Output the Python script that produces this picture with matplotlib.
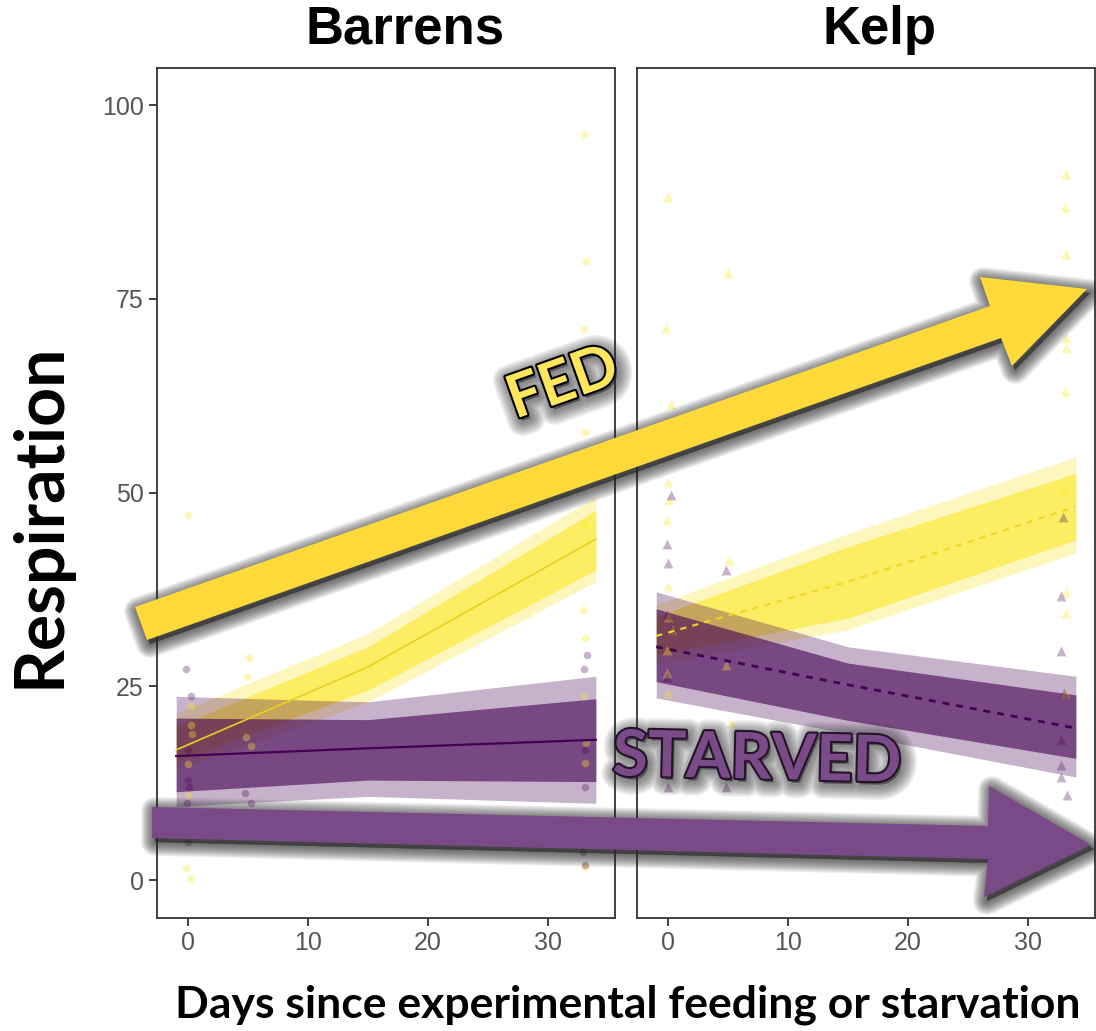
import numpy as np
import matplotlib
matplotlib.use('Agg')
import matplotlib.pyplot as plt
from matplotlib.patches import Polygon
from matplotlib import patheffects as pe

# ---- data ----
pred_days = [-1, 15, 34]

# Barrens, fed (solid line)
barrens_fed_mean = [16.8, 27.5, 44.0]
barrens_fed_in_lo = [15.3, 24.5, 40.0]
barrens_fed_in_hi = [19.8, 30.1, 47.7]
barrens_fed_out_lo = [14.2, 23.0, 38.5]
barrens_fed_out_hi = [21.5, 31.8, 49.5]

# Barrens, starved
barrens_starved_mean = [16.0, 17.0, 18.1]
barrens_starved_in_lo = [11.4, 12.9, 12.7]
barrens_starved_in_hi = [20.9, 20.7, 23.4]
barrens_starved_out_lo = [9.5, 10.8, 9.9]
barrens_starved_out_hi = [23.7, 23.0, 26.3]

# Kelp, fed (dashed line)
kelp_fed_mean = [31.5, 38.5, 48.2]
kelp_fed_in_lo = [29.0, 33.8, 43.9]
kelp_fed_in_hi = [34.0, 43.0, 52.5]
kelp_fed_out_lo = [27.8, 32.3, 42.2]
kelp_fed_out_hi = [35.5, 44.7, 54.6]

# Kelp, starved
kelp_starved_mean = [30.1, 25.2, 19.6]
kelp_starved_in_lo = [25.6, 20.6, 15.7]
kelp_starved_in_hi = [35.0, 28.0, 23.9]
kelp_starved_out_lo = [23.5, 18.9, 13.3]
kelp_starved_out_hi = [37.2, 30.1, 26.3]

# raw observations
barrens_fed_day = [0, 0.2, 0.2, 0.3, 0, 0, -0.2, 0.2,
                   5.1, 4.9, 4.8, 5.2,
                   33, 33.2, 33, 33.1, 33.3, 33, 32.9, 33.1, 33, 33.2, 33.1, 33.1]
barrens_fed_val = [47.1, 22.4, 20.0, 18.8, 15.0, 11.0, 1.5, 0.1,
                   28.6, 26.2, 18.4, 17.3,
                   96.1, 79.9, 71.1, 57.8, 54.0, 46.0, 34.8, 31.2, 23.7, 17.7, 15.1, 1.7]
barrens_starved_day = [-0.2, 0.2, 0, 0, 0.1, -0.1, 0,
                       4.7, 5.2,
                       33.3, 33, 33.1, 33.1, 32.9, 33.1]
barrens_starved_val = [27.2, 23.7, 16.8, 12.9, 12.0, 9.9, 4.9,
                       11.2, 9.9,
                       29.0, 27.3, 16.8, 12.0, 3.6, 1.9]

kelp_fed_day = [0, -0.2, 0.2, 0, 0.1, -0.1, 0, 0, 0.3, -0.1, -0.1, 0,
                5, 5.1, 4.8, 5.2,
                33.2, 33.1, 33.2, 33.2, 33.2, 33.1, 33, 33.2, 33.2, 33.1]
kelp_fed_val = [88.2, 71.2, 61.5, 51.4, 49.0, 46.5, 38.0, 34.0, 32.3, 29.7, 26.7, 24.1,
                78.4, 41.3, 27.7, 20.3,
                91.1, 86.9, 80.8, 70.0, 68.7, 63.1, 50.6, 37.2, 34.4, 24.1]
kelp_starved_day = [0.2, -0.1, 0, -0.1, 0.2, -0.1, -0.1, 0,
                    4.8, 4.8,
                    32.9, 32.8, 32.8, 33, 32.8, 32.8, 32.8, 33.3, 33]
kelp_starved_val = [49.7, 43.4, 40.9, 34.2, 32.3, 26.2, 15.9, 12.0,
                    40.0, 12.0,
                    46.9, 36.6, 29.5, 24.1, 18.1, 14.8, 13.3, 11.0, 6.0]

panel_titles = ['Barrens', 'Kelp']
y_ticks = [0, 25, 50, 75, 100]
x_ticks = [0, 10, 20, 30]

yellow = '#FDE725'
purple = '#440154'

W, H = 1096, 1031
fig = plt.figure(figsize=(W / 100, H / 100), dpi=100)


def px_axes(x0, y0, x1, y1):
    # pixel box (top-left origin) -> figure fraction
    return [x0 / W, 1 - y1 / H, (x1 - x0) / W, (y1 - y0) / H]


ax_b = fig.add_axes(px_axes(157, 68, 615, 918))
ax_k = fig.add_axes(px_axes(637, 68, 1095, 918))


def draw_panel(ax, fed, starved, fed_pts, st_pts, marker, ls, show_y):
    # fed ribbons
    ax.fill_between(pred_days, fed[3], fed[4], color=yellow, alpha=0.3, lw=0)
    ax.fill_between(pred_days, fed[1], fed[2], color=yellow, alpha=0.6, lw=0)
    # starved ribbons
    ax.fill_between(pred_days, starved[3], starved[4], color=purple, alpha=0.3, lw=0)
    ax.fill_between(pred_days, starved[1], starved[2], color=purple, alpha=0.6, lw=0)
    if ls == 'solid':
        ax.plot(pred_days, fed[0], color='#E6D21E', lw=1.2)
        ax.plot(pred_days, starved[0], color=purple, lw=1.6)
    else:
        ax.plot(pred_days, fed[0], color='#EED822', lw=1.5, ls=(0, (3, 3)))
        ax.plot(pred_days, starved[0], color=purple, lw=2, ls=(0, (2.5, 2.5)))
    ms = 30 if marker == 'o' else 50
    ax.scatter(fed_pts[0], fed_pts[1], s=ms, marker=marker, color=yellow, alpha=0.35, lw=0)
    ax.scatter(st_pts[0], st_pts[1], s=ms, marker=marker, color=purple, alpha=0.3, lw=0)

    ax.set_xlim(-2.6, 35.6)
    ax.set_ylim(-4.9, 104.8)
    ax.set_xticks(x_ticks)
    ax.set_yticks(y_ticks)
    for s in ax.spines.values():
        s.set_color('#333333')
        s.set_linewidth(1.3)
    ax.tick_params(axis='both', colors='#333333', length=6, width=1.3,
                   labelsize=18, labelcolor='#555555')
    for lab in ax.get_xticklabels() + ax.get_yticklabels():
        lab.set_family('Liberation Sans')
    if not show_y:
        ax.tick_params(axis='y', left=False, labelleft=False)


draw_panel(ax_b,
           [barrens_fed_mean, barrens_fed_in_lo, barrens_fed_in_hi, barrens_fed_out_lo, barrens_fed_out_hi],
           [barrens_starved_mean, barrens_starved_in_lo, barrens_starved_in_hi,
            barrens_starved_out_lo, barrens_starved_out_hi],
           (barrens_fed_day, barrens_fed_val), (barrens_starved_day, barrens_starved_val),
           'o', 'solid', True)
draw_panel(ax_k,
           [kelp_fed_mean, kelp_fed_in_lo, kelp_fed_in_hi, kelp_fed_out_lo, kelp_fed_out_hi],
           [kelp_starved_mean, kelp_starved_in_lo, kelp_starved_in_hi,
            kelp_starved_out_lo, kelp_starved_out_hi],
           (kelp_fed_day, kelp_fed_val), (kelp_starved_day, kelp_starved_val),
           '^', 'dashed', False)

# ---- overlay in pixel coordinates for the annotation arrows / labels ----
ov = fig.add_axes([0, 0, 1, 1])
ov.set_xlim(0, W)
ov.set_ylim(H, 0)
ov.axis('off')
ov.patch.set_alpha(0)


def glow(pts, dx=3, dy=4, spread=14, n=18, a=0.055, color='#2a2a2a'):
    # soft drop shadow built from stacked strokes
    p = np.asarray(pts, float) + [dx, dy]
    for i in range(n, 0, -1):
        lw = 2 * spread * i / n * 0.72
        ov.add_patch(Polygon(p, closed=True, fc=color, ec=color, lw=lw,
                             alpha=a, joinstyle='round'))


fed_arrow = [(135, 607), (990, 306), (980, 277), (1087, 289), (1012, 366), (1001, 338), (147, 640)]
starved_arrow = [(152, 807), (988, 826), (989, 786), (1091, 845), (984, 897), (988, 859), (152, 838)]

glow(fed_arrow)
ov.add_patch(Polygon(fed_arrow, closed=True, fc='#FDDA3A', ec='none'))
glow(starved_arrow)
ov.add_patch(Polygon(starved_arrow, closed=True, fc='#7A4988', ec='none'))


def glow_text(x, y, s, rot, size, fill, edge):
    fx = [pe.Stroke(linewidth=w, foreground='#2a2a2a', alpha=0.07, offset=(2, -2.5))
          for w in range(22, 2, -2)]
    ov.text(x, y, s, rotation=rot, rotation_mode='anchor', ha='center', va='center',
            fontsize=size, fontweight='bold', family='Lato', color='#2a2a2a',
            alpha=0.0, path_effects=fx)
    ov.text(x, y, s, rotation=rot, rotation_mode='anchor', ha='center', va='center',
            fontsize=size, fontweight='bold', family='Lato', color=fill,
            path_effects=[pe.Stroke(linewidth=3, foreground=edge), pe.Normal()])


glow_text(563, 384, 'FED', 19.6, 43, '#FFE65C', 'black')
glow_text(757, 760, 'STARVED', -1.3, 46, '#7B4A89', '#241329')

# titles and axis labels
ov.text(405, 30, panel_titles[0], ha='center', va='center', fontsize=38,
        fontweight='bold', family='Liberation Sans')
ov.text(880, 30, panel_titles[1], ha='center', va='center', fontsize=38,
        fontweight='bold', family='Liberation Sans')
ov.text(40, 515, 'Respiration', rotation=90, ha='center', va='center',
        fontsize=49, fontweight='bold', family='Lato')
ov.text(628, 1005, 'Days since experimental feeding or starvation', ha='center',
        va='center', fontsize=32, fontweight='bold', family='Lato')

fig.savefig('out.png', dpi=100)
